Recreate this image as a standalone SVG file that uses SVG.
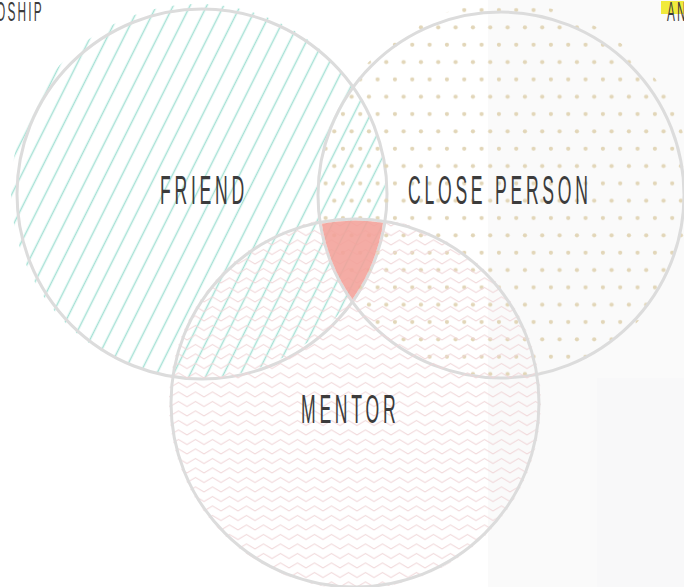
<svg xmlns="http://www.w3.org/2000/svg" width="684" height="587" viewBox="0 0 684 587">
  <style>
    .ring { fill: none; stroke: #dcdcdc; stroke-width: 3; }
    .label { font-family: "Liberation Sans", Arial, sans-serif; font-size: 40px; fill: #3c3c3c; letter-spacing: 8.5px; }
    .small { font-family: "Liberation Sans", Arial, sans-serif; font-size: 27px; fill: #3c3c3c; letter-spacing: 5px; }
  </style>
  <defs>
    <pattern id="hatch" patternUnits="userSpaceOnUse" width="15" height="20" patternTransform="rotate(26.6)">
      <line x1="7.5" y1="-1" x2="7.5" y2="21" stroke="#a6e1d5" stroke-width="1.5"/>
    </pattern>
    <pattern id="dots" patternUnits="userSpaceOnUse" x="5" y="1.33" width="17.33" height="34.66">
      <circle cx="8.67" cy="8.67" r="2.1" fill="#e2d6b8"/>
      <circle cx="0" cy="26" r="2.1" fill="#e2d6b8"/>
      <circle cx="17.33" cy="26" r="2.1" fill="#e2d6b8"/>
    </pattern>
    <pattern id="zigzag" patternUnits="userSpaceOnUse" x="0" y="0" width="17" height="9.5">
      <polyline points="-8.5,2.5 0,7.5 8.5,2.5 17,7.5 25.5,2.5" fill="none" stroke="#f0d6d8" stroke-width="1"/>
    </pattern>
    <clipPath id="clipF"><circle cx="202" cy="194" r="183.5"/></clipPath>
    <clipPath id="clipC"><circle cx="501" cy="195" r="181.5"/></clipPath>
  </defs>

  <rect width="684" height="587" fill="#ffffff"/>
  <rect x="488" y="0" width="196" height="587" fill="#fafafa"/>
  <rect x="597" y="378" width="87" height="209" fill="#f8f8f9"/>

  <g id="friend">
    <circle cx="198" cy="191" r="187" fill="url(#hatch)"/>
    <circle class="ring" cx="202" cy="194" r="185"/>
    <text class="label" transform="translate(160,204) scale(0.44,1)">FRIEND</text>
  </g>

  <g id="close-person">
    <circle cx="505" cy="190" r="187" fill="url(#dots)"/>
    <circle class="ring" cx="501" cy="195" r="183"/>
    <text class="label" transform="translate(408,204) scale(0.44,1)">CLOSE PERSON</text>
  </g>

  <g id="mentor">
    <circle cx="355" cy="403" r="186" fill="url(#zigzag)"/>
    <circle class="ring" cx="355" cy="403" r="184"/>
    <text class="label" transform="translate(301,423) scale(0.44,1)">MENTOR</text>
  </g>

  <g id="overlap" clip-path="url(#clipF)">
    <g clip-path="url(#clipC)">
      <circle cx="355" cy="403" r="182.5" fill="#f2a098" opacity="0.88"/>
    </g>
  </g>

  <g id="header">
    <text class="small" transform="translate(-4,21) scale(0.44,1)">OSHIP</text>
    <rect x="661" y="1" width="23" height="13" fill="#f1ea3c"/>
    <text class="small" transform="translate(667,21) scale(0.44,1)">AN</text>
  </g>
</svg>
